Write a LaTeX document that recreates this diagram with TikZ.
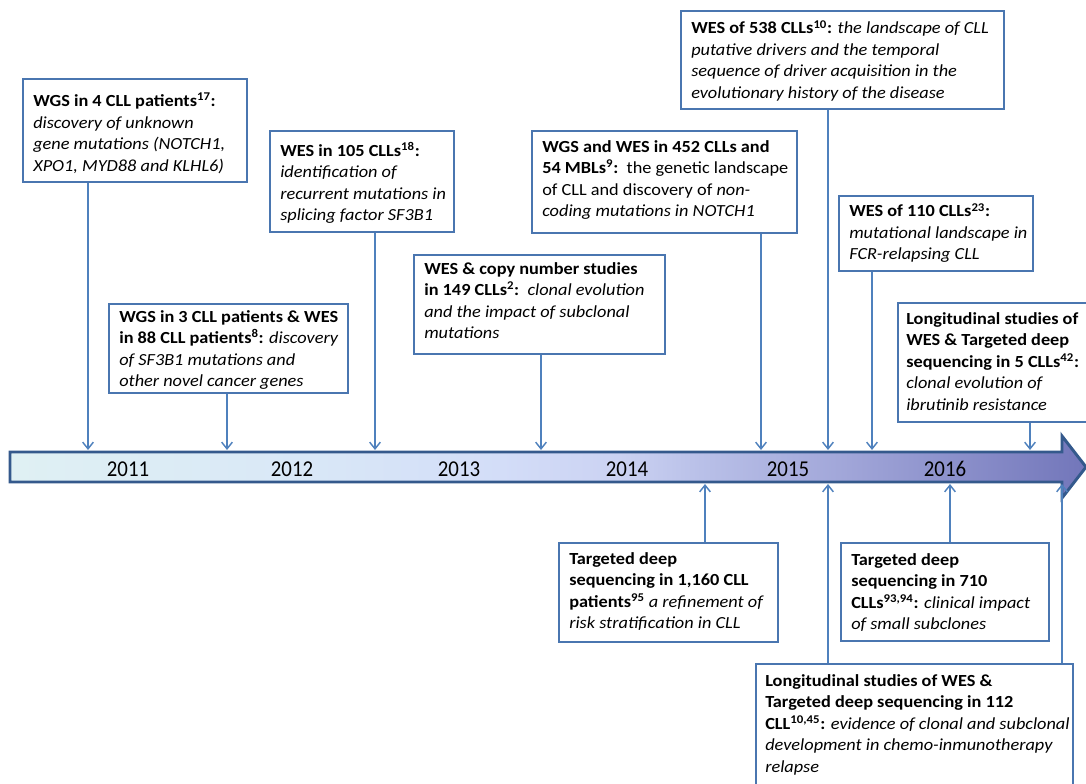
\documentclass[tikz,border=0pt]{standalone}
\usepackage{fontspec}
\setmainfont{Carlito}[FakeStretch=1.08]
\newfontfamily\yearfont{Carlito}[FakeStretch=0.92]
\usetikzlibrary{arrows.meta,shadows}
\definecolor{connc}{HTML}{4F81BD}
\definecolor{boxline}{HTML}{4A76B0}
\definecolor{tlborder}{HTML}{34598C}
\definecolor{tla}{HTML}{DFF0F3}
\definecolor{tlb}{HTML}{D9E8F7}
\definecolor{tlc}{HTML}{D3DDF8}
\definecolor{tld}{HTML}{CBD2F2}
\definecolor{tle}{HTML}{B9C0E8}
\definecolor{tlf}{HTML}{A0A5D8}
\definecolor{tlg}{HTML}{7276BA}
\pgfdeclarehorizontalshading{tlshade}{100bp}{color(0bp)=(tla); color(25bp)=(tla); color(38.5bp)=(tlb); color(47.8bp)=(tlc); color(53.3bp)=(tld); color(57.1bp)=(tle); color(64bp)=(tlf); color(75bp)=(tlg); color(100bp)=(tlg)}
\begin{document}
\begin{tikzpicture}[x=0.75pt,y=-0.75pt,
  font=\fontsize{12.7pt}{16.1pt}\selectfont,
  box/.style={draw=boxline, line width=1.2pt, fill=white, rectangle, inner sep=0pt, anchor=north west,
    drop shadow={shadow xshift=1.2pt, shadow yshift=-1.2pt, opacity=0.25, fill=black!60}},
  txt/.style={anchor=north west, align=left, inner sep=0pt, text=black},
  conn/.style={draw=connc, line width=1.1pt, -{Straight Barb[length=5pt,width=8pt,line width=1.1pt]}},
  year/.style={font=\yearfont\fontsize{17pt}{18pt}\selectfont, text=black, inner sep=0pt}]
\useasboundingbox (0,0) rectangle (1086,784);
\clip (0,0) rectangle (1086,784);

% timeline
\path[draw=tlborder, line width=2.2pt, line join=miter, shading=tlshade]
  (10,452) -- (1062,452) -- (1062,436) -- (1086,467) -- (1062,498) -- (1062,482) -- (10,482) -- cycle;
\node[year] (y2011) at (128,469) {2011};
\node[year] (y2012) at (292,469) {2012};
\node[year] (y2013) at (459,469) {2013};
\node[year] (y2014) at (627,469) {2014};
\node[year] (y2015) at (788,469) {2015};
\node[year] (y2016) at (945,469) {2016};

% timeline anchor points
\coordinate (p1) at (88,450);
\coordinate (p2) at (227,450);
\coordinate (p3) at (375,450);
\coordinate (p4) at (541,450);
\coordinate (p5) at (761,450);
\coordinate (p6) at (828,450);
\coordinate (p7) at (872,450);
\coordinate (p8) at (1030,450);
\coordinate (q1) at (705,484);
\coordinate (q2) at (950,484);
\coordinate (q3) at (828,484);
\coordinate (q4) at (1062,484);

% boxes above
\node[box, minimum width=224*0.75pt, minimum height=103*0.75pt] (b1) at (22,78) {};
\node[txt] (t1) at ([shift={(11,15)}]b1.north west)
 {\textbf{WGS in 4 CLL patients\textsuperscript{17}:}\\
  \textit{discovery of unknown}\\
  \textit{gene mutations (NOTCH1,}\\
  \textit{XPO1, MYD88 and KLHL6)}};

\node[box, minimum width=239*0.75pt, minimum height=89*0.75pt] (b2) at (108,303) {};
\node[txt] (t2) at ([shift={(11,7)}]b2.north west)
 {\textbf{WGS in 3 CLL patients \& WES}\\
  \textbf{in 88 CLL patients\textsuperscript{8}:} \textit{discovery}\\
  \textit{of SF3B1 mutations and}\\
  \textit{other novel cancer genes}};

\node[box, minimum width=184*0.75pt, minimum height=101*0.75pt] (b3) at (269,130) {};
\node[txt] (t3) at ([shift={(11,12)}]b3.north west)
 {\textbf{WES in 105 CLLs\textsuperscript{18}:}\\
  \textit{identification of}\\
  \textit{recurrent mutations in}\\
  \textit{splicing factor SF3B1}};

\node[box, minimum width=251*0.75pt, minimum height=99*0.75pt] (b4) at (413,254) {};
\node[txt] (t4) at ([shift={(11,8)}]b4.north west)
 {\textbf{WES \& copy number studies}\\
  \textbf{in 149 CLLs\textsuperscript{2}:}\ \ \textit{clonal evolution}\\
  \textit{and the impact of subclonal}\\
  \textit{mutations}};

\node[box, minimum width=265*0.75pt, minimum height=102*0.75pt] (b5) at (531,130) {};
\node[txt] (t5) at ([shift={(11,10)}]b5.north west)
 {\textbf{WGS and WES in 452 CLLs and}\\
  \textbf{54 MBLs\textsuperscript{9}:}\ \ the genetic landscape\\
  of CLL and discovery of \textit{non-}\\
  \textit{coding mutations in NOTCH1}};

\node[box, minimum width=323*0.75pt, minimum height=98*0.75pt] (b6) at (680,10) {};
\node[txt] (t6) at ([shift={(11,10)}]b6.north west)
 {\textbf{WES of 538 CLLs\textsuperscript{10}:} \textit{the landscape of CLL}\\
  \textit{putative drivers and the temporal}\\
  \textit{sequence of driver acquisition in the}\\
  \textit{evolutionary history of the disease}};

\node[box, minimum width=194*0.75pt, minimum height=75*0.75pt] (b7) at (838,195) {};
\node[txt] (t7) at ([shift={(11,8)}]b7.north west)
 {\textbf{WES of 110 CLLs\textsuperscript{23}:}\\
  \textit{mutational landscape in}\\
  \textit{FCR-relapsing CLL}};

\node[box, minimum width=194*0.75pt, minimum height=119*0.75pt] (b8) at (897,302) {};
\node[txt] (t8) at ([shift={(9,10)}]b8.north west)
 {\textbf{Longitudinal studies of}\\
  \textbf{WES \& Targeted deep}\\
  \textbf{sequencing in 5 CLLs\textsuperscript{42}:}\\
  \textit{clonal evolution of}\\
  \textit{ibrutinib resistance}};

% boxes below
\node[box, minimum width=219*0.75pt, minimum height=99*0.75pt] (b9) at (558,542) {};
\node[txt] (t9) at ([shift={(11,10)}]b9.north west)
 {\textbf{Targeted deep}\\
  \textbf{sequencing in 1,160 CLL}\\
  \textbf{patients\textsuperscript{95}} \textit{a refinement of}\\
  \textit{risk stratification in CLL}};

\node[box, minimum width=208*0.75pt, minimum height=98*0.75pt] (b10) at (840,542) {};
\node[txt] (t10) at ([shift={(11,11)}]b10.north west)
 {\textbf{Targeted deep}\\
  \textbf{sequencing in 710}\\
  \textbf{CLLs\textsuperscript{93,94}:} \textit{clinical impact}\\
  \textit{of small subclones}};

\node[box, minimum width=317*0.75pt, minimum height=127*0.75pt] (b11) at (755,663) {};
\node[txt] (t11) at ([shift={(10,11)}]b11.north west)
 {\textbf{Longitudinal studies of WES \&}\\
  \textbf{Targeted deep sequencing in 112}\\
  \textbf{CLL\textsuperscript{10,45}:} \textit{evidence of clonal and subclonal}\\
  \textit{development in chemo-inmunotherapy}\\
  \textit{relapse}};

% connectors
\draw[conn] (b1.south -| p1) -- (p1);
\draw[conn] (b2.south -| p2) -- (p2);
\draw[conn] (b3.south -| p3) -- (p3);
\draw[conn] (b4.south -| p4) -- (p4);
\draw[conn] (b5.south -| p5) -- (p5);
\draw[conn] (b6.south -| p6) -- (p6);
\draw[conn] (b7.south -| p7) -- (p7);
\draw[conn] (b8.south -| p8) -- (p8);
\draw[conn] (b9.north -| q1) -- (q1);
\draw[conn] (b10.north -| q2) -- (q2);
\draw[conn] (b11.north -| q3) -- (q3);
\draw[conn] (b11.north -| q4) -- (q4);
\end{tikzpicture}
\end{document}
